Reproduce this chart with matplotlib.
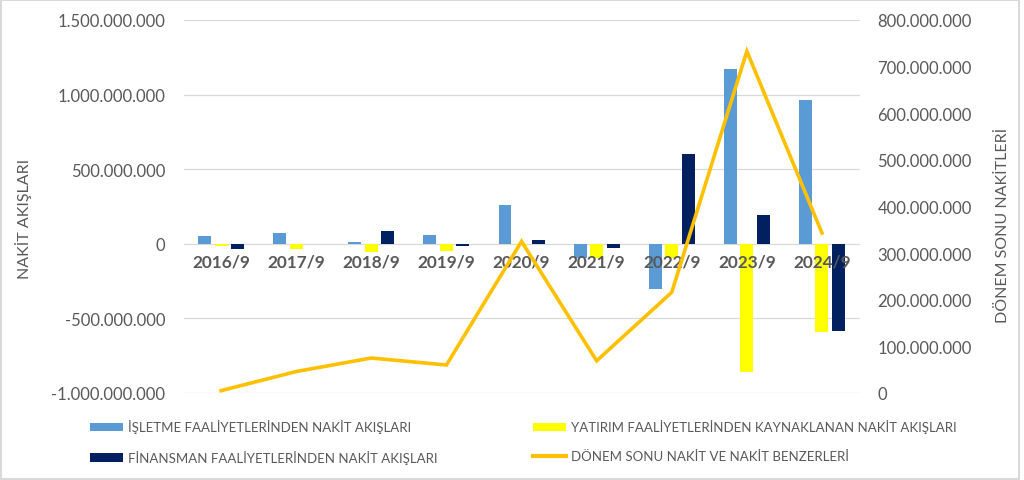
import numpy as np
import matplotlib
matplotlib.use("Agg")
import matplotlib.pyplot as plt
from matplotlib.patches import Patch, Rectangle
from matplotlib.lines import Line2D
from matplotlib.ticker import FuncFormatter

plt.rcParams["font.family"] = ["Lato", "DejaVu Sans"]

# Veriler (milyon TL olarak okunan degerler)
donemler = ["2016/9", "2017/9", "2018/9", "2019/9", "2020/9", "2021/9", "2022/9", "2023/9", "2024/9"]
isletme = np.array([49, 72, 11, 60, 260, -94, -302, 1174, 966]) * 1e6
yatirim = np.array([-18, -34, -58, -47, -5, -94, -95, -857, -590]) * 1e6
finansman = np.array([-36, -2, 89, -13, 22, -29, 602, 193, -586]) * 1e6
donem_sonu = np.array([5, 46, 75, 60, 325, 69, 216, 733, 343]) * 1e6

etiket_isletme = "İŞLETME FAALİYETLERİNDEN NAKİT AKIŞLARI"
etiket_yatirim = "YATIRIM FAALİYETLERİNDEN KAYNAKLANAN NAKİT AKIŞLARI"
etiket_finansman = "FİNANSMAN FAALİYETLERİNDEN NAKİT AKIŞLARI"
etiket_donem = "DÖNEM SONU NAKİT VE NAKİT BENZERLERİ"

renk_mavi = "#5B9BD5"
renk_sari = "#FFFF00"
renk_lacivert = "#002060"
renk_turuncu = "#FFC000"
gri = "#595959"

def nokta_format(v, pos):
    return f"{v:,.0f}".replace(",", ".")

fig = plt.figure(figsize=(10.24, 4.81), dpi=100)
ax1 = fig.add_axes([0.1792, 0.1809, 0.6602, 0.7755])
ax2 = ax1.twinx()

x = np.arange(len(donemler))
gen = 0.173
ara = 0.22
ax1.bar(x - ara, isletme, gen, color=renk_mavi, zorder=2)
ax1.bar(x, yatirim, gen, color=renk_sari, zorder=2)
ax1.bar(x + ara, finansman, gen, color=renk_lacivert, zorder=2)

ax2.plot(x, donem_sonu, color=renk_turuncu, linewidth=2.6, solid_joinstyle="miter")

ax1.set_xlim(-0.5, len(donemler) - 0.5)
ax1.set_ylim(-1e9, 1.5e9)
ax1.set_yticks(np.arange(-1e9, 1.5e9 + 1, 5e8))
ax2.set_ylim(0, 8e8)
ax2.set_yticks(np.arange(0, 8e8 + 1, 1e8))
ax1.yaxis.set_major_formatter(FuncFormatter(nokta_format))
ax2.yaxis.set_major_formatter(FuncFormatter(nokta_format))

ax1.grid(axis="y", color="#d9d9d9", linewidth=0.9, zorder=0)
ax1.set_axisbelow(True)
for a in (ax1, ax2):
    for s in a.spines.values():
        s.set_visible(False)
    a.tick_params(axis="y", length=0, labelsize=12, labelcolor=gri)
ax1.tick_params(axis="y", pad=13)
ax2.tick_params(axis="y", pad=13)
ax1.set_xticks([])

# donem etiketleri sifir cizgisinin altinda
for i, d in enumerate(donemler):
    ax1.annotate(d, xy=(i, 0), xytext=(0, -7), textcoords="offset points",
                 ha="center", va="top", fontsize=12.4, fontweight="bold", color=gri)

fig.text(23.5 / 1024, 1 - 219 / 481, "NAKİT AKIŞLARI", rotation=90, ha="center", va="center",
         fontsize=11.5, color=gri)
fig.text(1003 / 1024, 1 - 225 / 481, "DÖNEM SONU NAKİTLERİ", rotation=90, ha="center", va="center",
         fontsize=11.5, color=gri)

# lejant
h_isletme = Patch(facecolor=renk_mavi, label=etiket_isletme)
h_finansman = Patch(facecolor=renk_lacivert, label=etiket_finansman)
h_yatirim = Patch(facecolor=renk_sari, label=etiket_yatirim)
h_donem = Line2D([], [], color=renk_turuncu, linewidth=3, label=etiket_donem)

ortak = dict(frameon=False, fontsize=9.5, labelcolor=gri, borderpad=0, borderaxespad=0,
             handlelength=2.5, handleheight=0.6, handletextpad=0.4, labelspacing=1.25)
lej1 = fig.legend(handles=[h_isletme, h_finansman], loc="upper left",
                  bbox_to_anchor=(90 / 1024, 1 - 420.5 / 481), **ortak)
lej2 = fig.legend(handles=[h_yatirim, h_donem], loc="upper left",
                  bbox_to_anchor=(533 / 1024, 1 - 420.5 / 481), **ortak)

fig.patches.append(Rectangle((0.001, 0.002), 0.994, 0.995, transform=fig.transFigure,
                             fill=False, edgecolor="#d9d9d9", linewidth=1.5))

fig.savefig("out.png", dpi=100)
